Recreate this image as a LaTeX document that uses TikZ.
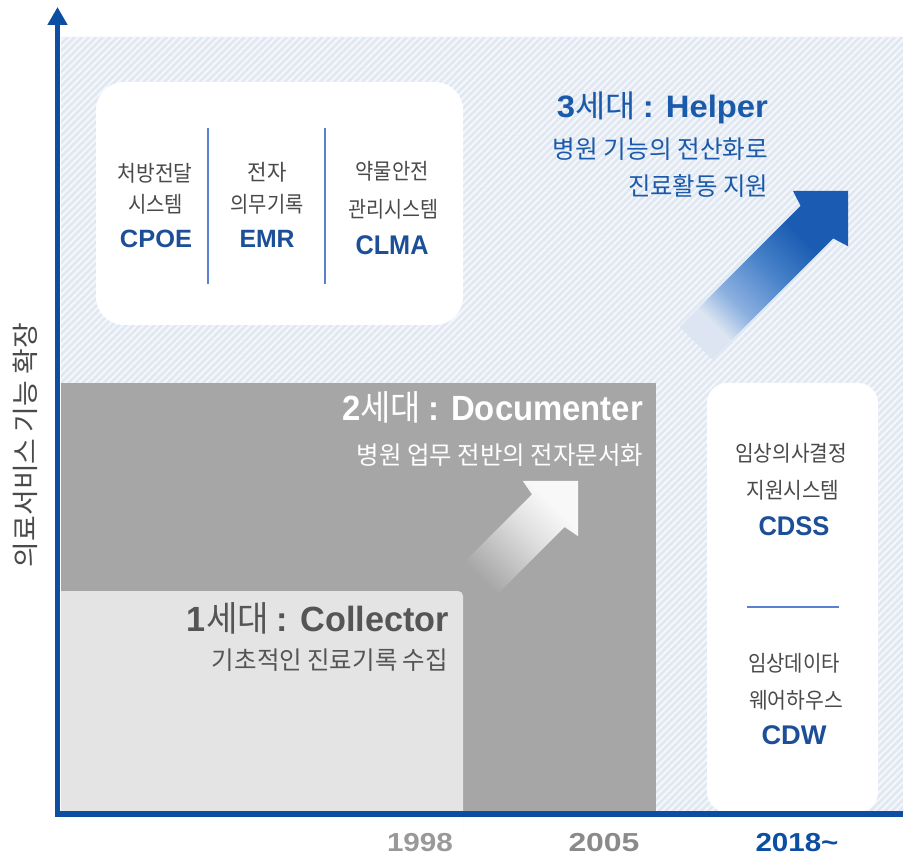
\documentclass[tikz,border=0pt]{standalone}
\usepackage{fontspec}
\setmainfont{Noto Sans CJK KR}
\newfontfamily\latf{Liberation Sans}
\usepackage{graphicx}
\usetikzlibrary{arrows.meta,patterns.meta}

\definecolor{axisblue}{HTML}{0B4EA2}
\definecolor{txtblue}{HTML}{1B5AAB}
\definecolor{codeblue}{HTML}{1C4F98}
\definecolor{boxgrey}{HTML}{4A4A4A}
\definecolor{titlegrey}{HTML}{555555}
\definecolor{yeargreyA}{HTML}{999999}
\definecolor{yeargreyB}{HTML}{8A8A8A}
\definecolor{divblue}{HTML}{5B80CF}
\definecolor{darkgrey}{HTML}{A6A6A6}
\definecolor{lightgrey}{HTML}{E4E4E4}
\definecolor{bgblue}{HTML}{E1E8F1}
\definecolor{stripe}{HTML}{F4F7FB}
\definecolor{bfade}{HTML}{DCE5F1}
\definecolor{bmidA}{HTML}{8CB0E0}
\definecolor{bmidB}{HTML}{4580C8}
\definecolor{bhead}{HTML}{1B5CB2}
\definecolor{wfade}{HTML}{A6A6A6}
\definecolor{wmidA}{HTML}{C3C3C3}
\definecolor{wmidB}{HTML}{E0E0E0}
\definecolor{whead}{HTML}{F8F8F8}

\pgfdeclarehorizontalshading{bluearrow}{100bp}{color(0bp)=(bfade); color(29bp)=(bfade); color(38bp)=(bmidA); color(53bp)=(bmidB); color(66bp)=(bhead); color(100bp)=(bhead)}
\pgfdeclarehorizontalshading{whitearrow}{100bp}{color(0bp)=(wfade); color(32bp)=(wfade); color(45bp)=(wmidA); color(58bp)=(wmidB); color(72bp)=(whead); color(100bp)=(whead)}

\newcommand{\fitw}[3]{{\fontsize{#1}{#1}\selectfont\resizebox{#2pt}{\height}{#3}}}
\newcommand{\lb}[1]{{\latf\bfseries #1}}

\begin{document}
\begin{tikzpicture}[x=1pt,y=-1pt,
  lbl/.style={inner sep=0pt, outer sep=0pt},
  divider/.style={draw=divblue, line width=1.3pt},
  axisline/.style={draw=axisblue, line width=5.5pt, line join=miter, -{Triangle[width=19pt,length=18pt]}}]
\useasboundingbox (0,0) rectangle (903,858);
\fill[white] (0,0) rectangle (903,858);

% hatched background
\fill[bgblue] (61,37) rectangle (903,812);
\fill[pattern={Lines[angle=45,distance=5pt,line width=2pt]}, pattern color=stripe] (61,37) rectangle (903,812);

% white boxes
\fill[white, rounded corners=28pt] (96,82) rectangle (463,325);
\fill[white, rounded corners=20pt] (707,383) rectangle (878,812);

% generation areas
\fill[darkgrey] (61,383) rectangle (656,812);
\shade[shading=whitearrow, shading angle=45] (578,481) -- (522.8,481) -- (532,494.4) -- (448.6,577.9) -- (481.1,610.4) -- (564.6,527) -- (578,536.2) -- cycle;
\fill[lightgrey] (61,812) -- (61,591) [rounded corners=5pt] -- (463,591) -- (463,830) [sharp corners] -- (463,812) -- cycle;

% blue arrow
\shade[shading=bluearrow, shading angle=45] (848,191) -- (793,191) -- (800.6,205.8) -- (679.7,326.8) -- (712.2,359.3) -- (833.2,238.4) -- (848,246.2) -- cycle;

% dividers
\coordinate (d1t) at (208,128); \coordinate (d1b) at (208,284);
\coordinate (d2t) at (325,128); \coordinate (d2b) at (325,284);
\coordinate (d3l) at (747,607); \coordinate (d3r) at (839,607);
\draw[divider] (d1t) -- (d1b);
\draw[divider] (d2t) -- (d2b);
\draw[divider] (d3l) -- (d3r);

% axes
\coordinate (xend) at (903,814);
\coordinate (O) at (57.5,814);
\coordinate (ytop) at (57.5,7);
\draw[axisline] (xend) -- (O) -- (ytop);

% axis label
\node[lbl, rotate=90, text=boxgrey] (ylab) at (25,445) {\fitw{27}{244}{의료서비스 기능 확장}};

% top-left box texts
\node[lbl, text=boxgrey] (a1) at (155,173) {\fitw{22}{75}{처방전달}};
\node[lbl, text=boxgrey] (a2) at (155.5,204) {\fitw{22}{55}{시스템}};
\node[lbl, text=codeblue] (a3) at (156,239) {\fitw{25}{72}{\lb{CPOE}}};
\node[lbl, text=boxgrey] (b1) at (267,172) {\fitw{22}{39}{전자}};
\node[lbl, text=boxgrey] (b2) at (267,204) {\fitw{22}{73}{의무기록}};
\node[lbl, text=codeblue] (b3) at (267,239) {\fitw{25}{55}{\lb{EMR}}};
\node[lbl, text=boxgrey] (c1) at (392,171) {\fitw{22}{73}{약물안전}};
\node[lbl, text=boxgrey] (c2) at (393,209) {\fitw{22}{90}{관리시스템}};
\node[lbl, text=codeblue] (c3) at (392,245) {\fitw{27}{73}{\lb{CLMA}}};

% right box texts
\node[lbl, text=boxgrey] (r1) at (791,453) {\fitw{22}{112}{임상의사결정}};
\node[lbl, text=boxgrey] (r2) at (793,490) {\fitw{22}{93}{지원시스템}};
\node[lbl, text=codeblue] (r3) at (794,526) {\fitw{27}{71}{\lb{CDSS}}};
\node[lbl, text=boxgrey] (r4) at (794,663) {\fitw{22}{92}{임상데이타}};
\node[lbl, text=boxgrey] (r5) at (796,700) {\fitw{22}{94}{웨어하우스}};
\node[lbl, text=codeblue] (r6) at (794,735) {\fitw{27}{65}{\lb{CDW}}};

% generation titles
\node[lbl, anchor=base east, text=txtblue] (g3) at (768,118) {\fitw{31}{211}{\lb{3}세대 \lb{: Helper}}};
\node[lbl, anchor=base east, text=txtblue] (g3a) at (768,159) {\fitw{25}{215}{병원 기능의 전산화로}};
\node[lbl, anchor=base east, text=txtblue] (g3b) at (768,195.5) {\fitw{25}{140}{진료활동 지원}};

\node[lbl, anchor=base east, text=white] (g2) at (643,421) {\fitw{35}{301}{\lb{2}세대 \lb{: Documenter}}};
\node[lbl, anchor=base east, text=white] (g2a) at (643,465) {\fitw{25}{286}{병원 업무 전반의 전자문서화}};

\node[lbl, anchor=base east, text=titlegrey] (g1) at (449,631) {\fitw{35}{262}{\lb{1}세대 \lb{: Collector}}};
\node[lbl, anchor=base east, text=titlegrey] (g1a) at (448,669) {\fitw{25}{236}{기초적인 진료기록 수집}};

% years
\node[lbl, text=yeargreyA] (y1) at (420,843) {\fitw{26}{66}{\lb{1998}}};
\node[lbl, text=yeargreyB] (y2) at (604,843) {\fitw{26}{71}{\lb{2005}}};
\node[lbl, text=axisblue] (y3) at (797,843) {\fitw{26}{83}{\lb{2018\textasciitilde}}};
\end{tikzpicture}
\end{document}
